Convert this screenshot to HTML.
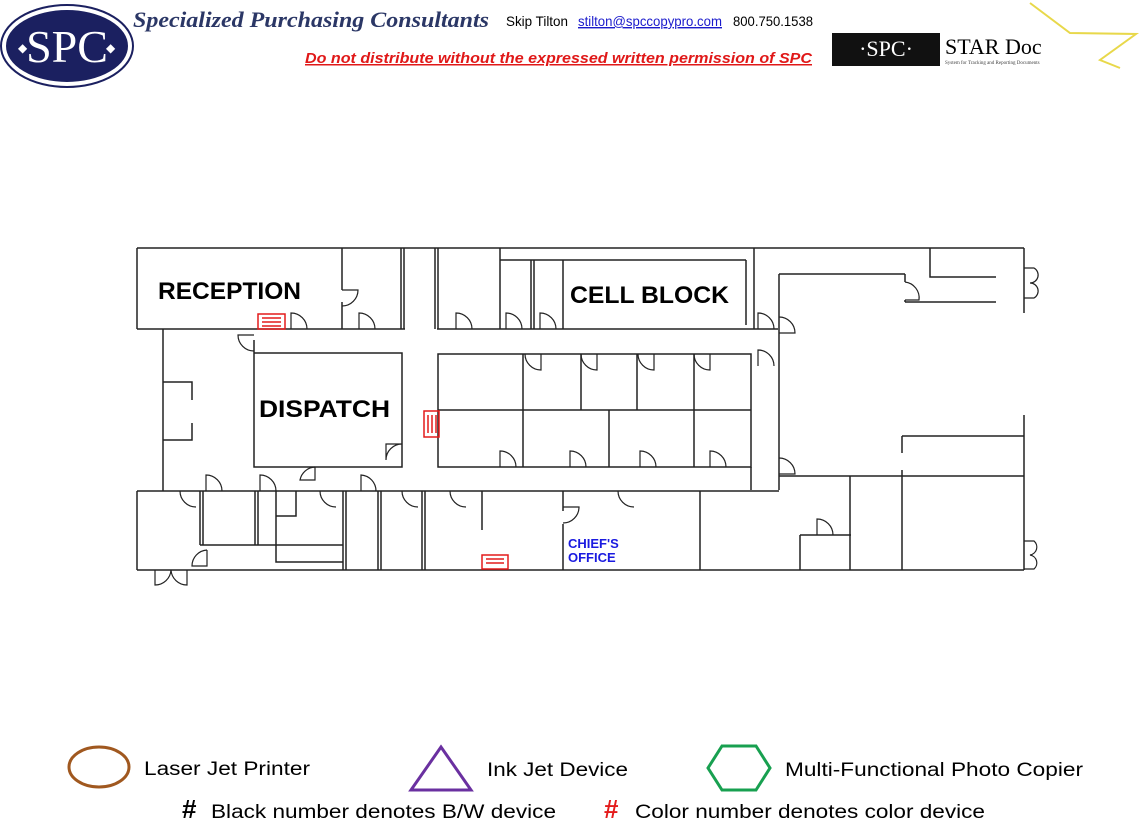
<!DOCTYPE html>
<html><head><meta charset="utf-8"><style>
html,body{margin:0;padding:0;background:#fff;}
svg{display:block}
</style></head><body>
<svg width="1140" height="828" viewBox="0 0 1140 828" xmlns="http://www.w3.org/2000/svg" font-family="Liberation Sans, sans-serif">
<!-- header -->
<ellipse cx="67" cy="46" rx="66" ry="41" fill="#fff" stroke="#1b2060" stroke-width="2"/>
<ellipse cx="67" cy="46" rx="62" ry="37" fill="#1b2060" stroke="#fff" stroke-width="2"/>
<text x="67" y="62" text-anchor="middle" fill="#fff" font-family="Liberation Serif, serif" font-size="46">SPC</text>
<text x="18" y="52" fill="#fff" font-size="12">◆</text><text x="106" y="52" fill="#fff" font-size="12">◆</text>
<text x="133" y="27" fill="#2b3766" font-family="Liberation Serif, serif" font-style="italic" font-weight="bold" font-size="22" textLength="356" lengthAdjust="spacingAndGlyphs">Specialized Purchasing Consultants</text>
<text x="506" y="26" fill="#000" font-size="14" textLength="62" lengthAdjust="spacingAndGlyphs">Skip Tilton</text>
<text x="578" y="26" fill="#1a1acc" font-size="14" text-decoration="underline" textLength="144" lengthAdjust="spacingAndGlyphs">stilton@spccopypro.com</text>
<text x="733" y="26" fill="#000" font-size="14" textLength="80" lengthAdjust="spacingAndGlyphs">800.750.1538</text>
<text x="305" y="63" fill="#e01818" font-size="15" font-weight="bold" font-style="italic" text-decoration="underline" textLength="507" lengthAdjust="spacingAndGlyphs">Do not distribute without the expressed written permission of SPC</text>
<polyline points="1030,3 1070,33 1136,34 1100,60 1120,68" fill="none" stroke="#e8d84a" stroke-width="2"/>
<rect x="832" y="33" width="108" height="33" fill="#111"/>
<text x="886" y="56" text-anchor="middle" fill="#fff" font-family="Liberation Serif, serif" font-size="22">·SPC·</text>
<text x="945" y="54" fill="#000" font-family="Liberation Serif, serif" font-size="22">STAR Doc</text>
<text x="945" y="64" fill="#444" font-family="Liberation Serif, serif" font-size="5">System for Tracking and Reporting Documents</text>

<!-- floor plan walls -->
<g stroke="#222" stroke-width="1.5" fill="none">
<path d="M137 248H1024M137 248V329M137 329H254M254 329H405M437 329H500M500 260H746M500 248V329M746 260V325M754 248V329M500 329H778"/>
<path d="M342 248V290M342 302V329M401 248V329M404 248V329M435 248V329M438 248V329M531 260V329M534 260V329M563 260V329"/>
<path d="M254 353H402V467H254ZM254 340V353"/>
<path d="M438 354H751V467H438ZM438 410H751M523 354V467M581 354V410M637 354V410M694 354V467M609 410V467"/>
<path d="M779 274V490M751 467V490M779 274H905M905 274V282M905 300V302M905 302H996M930 248V277H996M1024 248V313"/>
<path d="M779 476H1024M850 476V570M902 436H1024M902 436V453M902 470V570M1024 415V570M800 535H851M800 535V570"/>
<path d="M137 491H779M137 491V570M137 570H1024M563 491V511M563 524V570M700 491V570"/>
<path d="M163 329V491M163 382H192V400M163 423V440H192V423"/>
<path d="M200 491V545M203 491V545M255 491V545M258 491V545M200 545H343M276 491V562H343M276 516H296V491M343 491V570M346 491V570M378 491V570M381 491V570M422 491V570M425 491V570M482 491V530"/>
</g>
<!-- doors -->
<g stroke="#222" stroke-width="1.2" fill="none">
<path d="M291 329V313A16 16 0 0 1 307 329"/>
<path d="M359 329V313A16 16 0 0 1 375 329"/>
<path d="M342 290H358A16 16 0 0 1 342 306"/>
<path d="M456 329V313A16 16 0 0 1 472 329"/>
<path d="M506 329V313A16 16 0 0 1 522 329"/>
<path d="M540 329V313A16 16 0 0 1 556 329"/>
<path d="M758 329V313A16 16 0 0 1 774 329"/>
<path d="M779 333H795A16 16 0 0 0 779 317"/>
<path d="M254 335H238A16 16 0 0 0 254 351"/>
<path d="M402 444H386V460A16 16 0 0 1 402 444"/>
<path d="M758 366V350A16 16 0 0 1 774 366"/>
<path d="M541 354V370A16 16 0 0 1 525 354"/>
<path d="M597 354V370A16 16 0 0 1 581 354"/>
<path d="M654 354V370A16 16 0 0 1 638 354"/>
<path d="M710 354V370A16 16 0 0 1 694 354"/>
<path d="M500 467V451A16 16 0 0 1 516 467"/>
<path d="M570 467V451A16 16 0 0 1 586 467"/>
<path d="M640 467V451A16 16 0 0 1 656 467"/>
<path d="M710 467V451A16 16 0 0 1 726 467"/>
<path d="M779 458A16 16 0 0 1 795 474H779"/>
<path d="M315 467V480H300A16 16 0 0 1 315 467"/>
<path d="M206 491V475A16 16 0 0 1 222 491"/>
<path d="M260 491V475A16 16 0 0 1 276 491"/>
<path d="M320 491A16 16 0 0 0 336 507"/>
<path d="M361 491V475A16 16 0 0 1 376 491"/>
<path d="M402 491A16 16 0 0 0 418 507"/>
<path d="M450 491A16 16 0 0 0 466 507"/>
<path d="M618 491A16 16 0 0 0 634 507"/>
<path d="M563 507H579A16 16 0 0 1 563 523"/>
<path d="M180 491A16 16 0 0 0 196 507"/>
<path d="M207 550V566H192A16 16 0 0 1 207 550"/>
<path d="M155 570V585A16 16 0 0 0 171 570A16 16 0 0 0 187 585V570"/>
<path d="M817 535V519A16 16 0 0 1 833 535"/>
<path d="M905 282A16 16 0 0 1 919 300H905"/>
<path d="M1024 268H1034A8 8 0 0 1 1030 283A8 8 0 0 1 1034 298H1024"/>
<path d="M1024 541H1034A8 8 0 0 1 1030 555A8 8 0 0 1 1034 569H1024"/>
</g>
<!-- printers -->
<g stroke="#e41b1b" stroke-width="1.5" fill="none">
<rect x="258" y="314" width="27" height="15"/><path d="M262 318H281M262 322H281M262 326H281"/>
<rect x="424" y="411" width="15" height="26"/><path d="M428 415V433M432 415V433M436 415V433"/>
<rect x="482" y="555" width="26" height="14"/><path d="M486 559H504M486 563H504"/>
</g>
<!-- labels -->
<g font-weight="bold" fill="#000">
<text x="158" y="299" font-size="24" textLength="143" lengthAdjust="spacingAndGlyphs">RECEPTION</text>
<text x="259" y="417" font-size="24" textLength="131" lengthAdjust="spacingAndGlyphs">DISPATCH</text>
<text x="570" y="303" font-size="24" textLength="159" lengthAdjust="spacingAndGlyphs">CELL BLOCK</text>
<text x="568" y="548" font-size="13" fill="#1a1ae0">CHIEF'S</text>
<text x="568" y="562" font-size="13" fill="#1a1ae0">OFFICE</text>
</g>
<!-- legend -->
<ellipse cx="99" cy="767" rx="30" ry="20" fill="none" stroke="#a0581f" stroke-width="3"/>
<text x="144" y="775" font-size="19" textLength="166" lengthAdjust="spacingAndGlyphs">Laser Jet Printer</text>
<polygon points="441,747 411,790 471,790" fill="none" stroke="#6a30a0" stroke-width="3"/>
<text x="487" y="776" font-size="19" textLength="141" lengthAdjust="spacingAndGlyphs">Ink Jet Device</text>
<polygon points="722,746 756,746 770,768 756,790 722,790 708,768" fill="none" stroke="#18a050" stroke-width="3"/>
<text x="785" y="776" font-size="19" textLength="298" lengthAdjust="spacingAndGlyphs">Multi-Functional Photo Copier</text>
<text x="182" y="818" font-size="26" font-weight="bold">#</text>
<text x="211" y="818" font-size="19" textLength="345" lengthAdjust="spacingAndGlyphs">Black number denotes B/W device</text>
<text x="604" y="818" font-size="26" font-weight="bold" fill="#e41b1b">#</text>
<text x="635" y="818" font-size="19" textLength="350" lengthAdjust="spacingAndGlyphs">Color number denotes color device</text>
</svg>
</body></html>
